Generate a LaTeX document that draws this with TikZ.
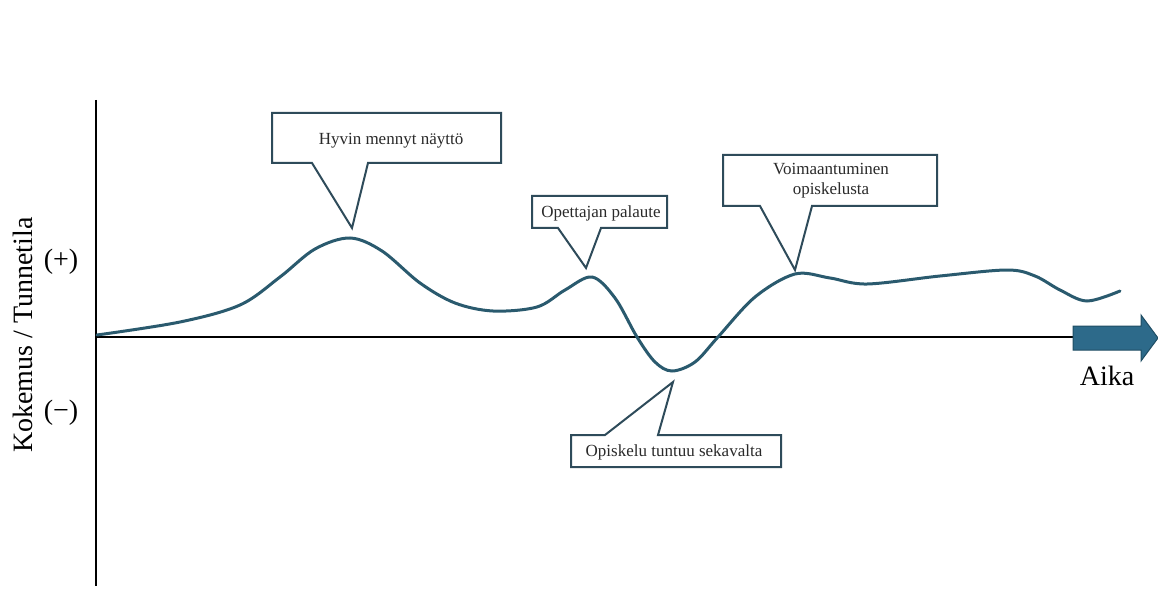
\documentclass[tikz,border=0pt]{standalone}
\usepackage{fontspec}
\setmainfont{Liberation Serif}
\definecolor{curvec}{HTML}{2A5A6E}
\definecolor{boxc}{HTML}{2E4B5A}
\definecolor{arrowfill}{HTML}{2D6A8A}
\definecolor{arrowline}{HTML}{1F4D63}
\definecolor{txt}{HTML}{2A2A2A}
\tikzset{
  callout/.style={draw=boxc, line width=2pt, fill=white, line join=miter},
  ctext/.style={font=\fontsize{17}{20}\selectfont, text=txt, align=center, inner sep=0pt},
  axis/.style={draw=black, line width=2pt},
  bigtext/.style={font=\fontsize{28}{30}\selectfont, text=black, inner sep=0pt}
}
\begin{document}
\begin{tikzpicture}[x=1pt,y=-1pt]
\useasboundingbox (0,0) rectangle (1158,612);
% axes
\coordinate (ytop) at (96,100);
\coordinate (ybot) at (96,586);
\coordinate (origin) at (96,337);
\coordinate (xend) at (1073,337);
\draw[axis] (ytop) -- (ybot);
\draw[axis] (origin) -- (xend);
% big arrow
\draw[fill=arrowfill, draw=arrowline, line width=1pt]
  (1073,326) -- (1141,326) -- (1141,315) -- (1158,338) -- (1141,361) -- (1141,350) -- (1073,350) -- cycle;
% curve
\draw[curvec, line width=3pt, line cap=round] plot[smooth, tension=0.55] coordinates {
 (97,335) (180,322) (240,305) (280,277) (315,249) (350,238) (382,251) (420,283) (455,303) (493,311) (537,307) (565,290) (592,277) (615,298) (637,337) (655,362) (672,371) (695,362) (718,337) (755,297) (795,274) (830,278) (867,284) (940,276) (1007,270) (1035,276) (1060,290) (1087,301) (1120,291)};
% callouts
\draw[callout] (272,113) -- (501,113) -- (501,163) -- (368,163) -- (352,228) -- (312,163) -- (272,163) -- cycle;
\node[ctext] (c1) at (391,141) {Hyvin mennyt näyttö};
\draw[callout] (532,196) -- (667,196) -- (667,228) -- (601,228) -- (586,268) -- (558,228) -- (532,228) -- cycle;
\node[ctext] (c2) at (601,213) {Opettajan palaute};
\draw[callout] (723,155) -- (937,155) -- (937,206) -- (812,206) -- (795,270) -- (760,206) -- (723,206) -- cycle;
\node[ctext] (c3) at (831,181) {Voimaantuminen\\opiskelusta};
\draw[callout] (571,435) -- (605,435) -- (673,382) -- (658,435) -- (781,435) -- (781,467) -- (571,467) -- cycle;
\node[ctext] (c4) at (674,452) {Opiskelu tuntuu sekavalta};
% axis labels
\node[bigtext, rotate=90] (ylab) at (23,335) {Kokemus / Tunnetila};
\node[bigtext] (plus) at (61,262) {(+)};
\node[bigtext] (minus) at (61,413) {(−)};
\node[bigtext] (aika) at (1107,376) {Aika};
\end{tikzpicture}
\end{document}
